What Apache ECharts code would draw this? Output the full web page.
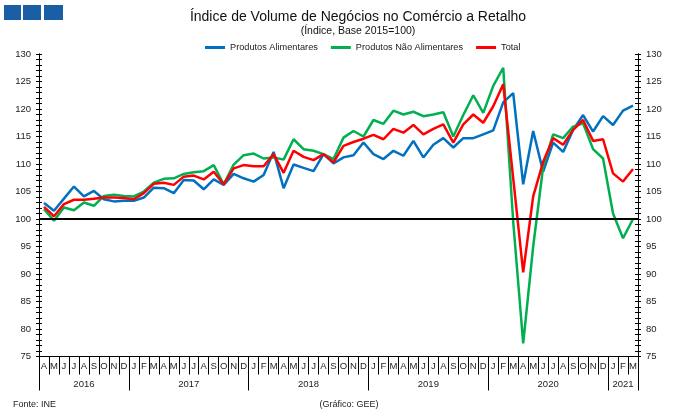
<!DOCTYPE html>
<html>
<head>
<meta charset="utf-8">
<script src="https://cdn.jsdelivr.net/npm/echarts@6/dist/echarts.min.js"></script>
<style>
html, body { margin: 0; padding: 0; background: #fff; }
#chart { width: 680px; height: 415px; }
</style>
</head>
<body>
<div id="chart"></div>
<script>
// meses Abr 2016 .. Mar 2021
var monthLabels = ['A','M','J','J','A','S','O','N','D',
    'J','F','M','A','M','J','J','A','S','O','N','D',
    'J','F','M','A','M','J','J','A','S','O','N','D',
    'J','F','M','A','M','J','J','A','S','O','N','D',
    'J','F','M','A','M','J','J','A','S','O','N','D',
    'J','F','M'];
var years = ['2016', '2017', '2018', '2019', '2020', '2021'];
var monthsPerYear = [9, 12, 12, 12, 12, 3];
var yTicks = [75, 130, 5];

var alimentares = [102.9, 101.5, 103.7, 105.9, 104.1, 105.1, 103.6, 103.2, 103.3,
    103.3, 103.9, 105.7, 105.6, 104.7, 107.1, 107.0, 105.4, 107.2, 106.2, 108.2, 107.4,
    106.8, 108.0, 112.2, 105.6, 109.9, 109.3, 108.7, 111.8, 110.1, 111.2, 111.6, 113.9,
    111.8, 110.9, 112.4, 111.5, 114.2, 111.2, 113.5, 114.7, 113.0, 114.7, 114.7, 115.4,
    116.1, 121.2, 122.9, 106.3, 116.0, 108.6, 113.9, 112.2, 116.2, 118.9, 115.9, 118.7,
    117.1, 119.7, 120.6];
var naoAlimentares = [101.8, 99.7, 102.1, 101.6, 103.0, 102.4, 104.2, 104.4, 104.2,
    104.1, 105.0, 106.6, 107.3, 107.4, 108.2, 108.5, 108.7, 109.8, 106.3, 109.9, 111.6,
    111.9, 111.0, 111.2, 110.8, 114.5, 112.7, 112.4, 111.8, 110.9, 114.8, 116.0, 115.0,
    118.0, 117.3, 119.7, 119.0, 119.5, 118.7, 119.0, 119.4, 115.0, 118.9, 122.5, 119.3,
    124.2, 127.5, 99.5, 77.4, 95.0, 109.5, 115.4, 114.7, 116.8, 117.4, 112.7, 111.0,
    101.0, 96.5, 100.0];
var total = [102.2, 100.5, 102.7, 103.5, 103.5, 103.7, 103.9, 103.9, 103.8,
    103.6, 104.7, 106.4, 106.6, 106.2, 107.7, 107.9, 107.2, 108.6, 106.3, 109.2, 109.8,
    109.6, 109.6, 111.8, 108.4, 112.4, 111.3, 110.7, 111.8, 110.3, 113.3, 114.0, 114.6,
    115.3, 114.5, 116.4, 115.7, 117.1, 115.4, 116.4, 117.2, 113.9, 117.2, 119.0, 117.5,
    120.5, 124.5, 107.4, 90.3, 104.1, 110.4, 114.7, 113.5, 116.2, 118.0, 114.2, 114.5,
    108.3, 106.8, 109.1];

var font = 'Liberation Sans, Arial, sans-serif';
var txt = '#222';

// limites e centros dos anos (em meses)
var yearBounds = [0];
var yearCenters = [];
monthsPerYear.forEach(function (n, k) {
    var start = yearBounds[k];
    yearBounds.push(start + n);
    yearCenters.push(start + n / 2);
});

var chart = echarts.init(document.getElementById('chart'));

function yAxisDef(pos, showLabel, inside) {
    return {
        type: 'value', position: pos,
        min: yTicks[0], max: yTicks[1], interval: yTicks[2],
        splitLine: { show: false },
        axisLine: { show: true, lineStyle: { color: '#000', width: 1 } },
        axisTick: { show: true, inside: inside, length: 3, lineStyle: { color: '#000' } },
        minorTick: { show: true, splitNumber: 5, length: 3, lineStyle: { color: '#000' } },
        axisLabel: { show: showLabel, inside: false, margin: 8, color: txt, fontSize: 9.5, fontFamily: font }
    };
}

var option = {
    animation: false,
    textStyle: { fontFamily: font },
    title: [{
        text: 'Índice de Volume de Negócios no Comércio a Retalho',
        left: 353, top: 5, textAlign: 'center',
        textStyle: { fontSize: 14, fontWeight: 'normal', color: '#111', fontFamily: font }
    }, {
        text: '(Índice, Base 2015=100)',
        left: 353, top: 21, textAlign: 'center',
        textStyle: { fontSize: 10.5, fontWeight: 'normal', color: '#111', fontFamily: font }
    }, {
        text: 'Fonte: INE', left: 8, top: 395,
        textStyle: { fontSize: 9, fontWeight: 'normal', color: txt, fontFamily: font }
    }, {
        text: '(Gráfico: GEE)', left: 344, top: 395, textAlign: 'center',
        textStyle: { fontSize: 9, fontWeight: 'normal', color: txt, fontFamily: font }
    }],
    graphic: [
        { type: 'rect', shape: { x: 4, y: 5, width: 17, height: 15 }, style: { fill: '#1a5ea6' } },
        { type: 'rect', shape: { x: 23, y: 5, width: 18, height: 15 }, style: { fill: '#1a5ea6' } },
        { type: 'rect', shape: { x: 44, y: 5, width: 19, height: 15 }, style: { fill: '#1a5ea6' } }
    ],
    legend: {
        top: 38, left: 200, itemWidth: 20, itemHeight: 3, itemGap: 13,
        icon: 'rect',
        textStyle: { fontSize: 9.2, color: txt, fontFamily: font },
        data: ['Produtos Alimentares', 'Produtos Não Alimentares', 'Total']
    },
    grid: { left: 39, right: 42, top: 54, bottom: 58.5 },
    xAxis: [{
        type: 'category', data: monthLabels, boundaryGap: true, position: 'bottom',
        axisLine: { show: true, lineStyle: { color: '#000', width: 1 } },
        axisTick: { show: true, interval: 0, length: 18, lineStyle: { color: '#000' } },
        axisLabel: { interval: 0, margin: 5, color: txt, fontSize: 9.5, fontFamily: font }
    }, {
        type: 'value', position: 'bottom', min: 0, max: monthLabels.length,
        splitLine: { show: false },
        axisLine: { show: false },
        axisTick: { show: true, length: 34, customValues: yearBounds, lineStyle: { color: '#000' } },
        axisLabel: {
            show: true, margin: 23, color: txt, fontSize: 9.5, fontFamily: font,
            customValues: yearCenters,
            formatter: function (v) {
                var k = yearCenters.indexOf(v);
                return k >= 0 ? years[k] : '';
            }
        }
    }],
    yAxis: [
        yAxisDef('left', true, false),
        yAxisDef('right', true, false),
        yAxisDef('left', false, true),
        yAxisDef('right', false, true)
    ],
    series: [{
        name: 'Produtos Alimentares', type: 'line', data: alimentares,
        symbol: 'none', lineStyle: { color: '#0070c0', width: 2.5 }, itemStyle: { color: '#0070c0' },
        markLine: {
            silent: true, symbol: 'none', label: { show: false },
            lineStyle: { color: '#000', width: 2, type: 'solid' },
            data: [{ yAxis: 100 }]
        }
    }, {
        name: 'Produtos Não Alimentares', type: 'line', data: naoAlimentares,
        symbol: 'none', lineStyle: { color: '#00b050', width: 2.5 }, itemStyle: { color: '#00b050' }
    }, {
        name: 'Total', type: 'line', data: total,
        symbol: 'none', lineStyle: { color: '#ff0000', width: 2.5 }, itemStyle: { color: '#ff0000' }
    }]
};

chart.setOption(option);
</script>
</body>
</html>
